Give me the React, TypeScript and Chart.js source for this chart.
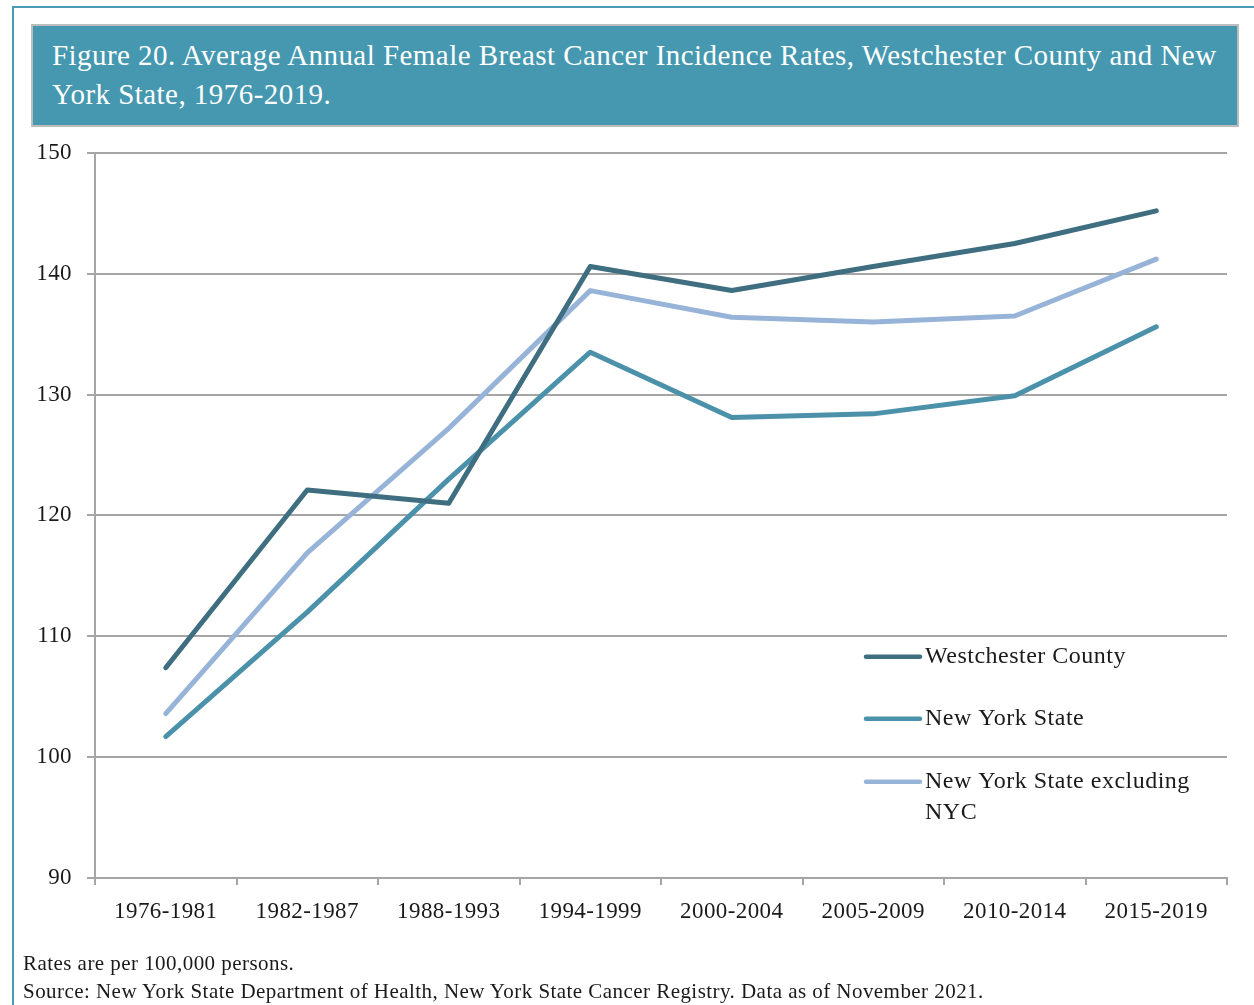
import React, { useEffect, useRef } from 'react';
import { Chart, registerables } from 'chart.js';

Chart.register(...registerables);

const categories = ['1976-1981', '1982-1987', '1988-1993', '1994-1999', '2000-2004', '2005-2009', '2010-2014', '2015-2019'];
const westchester = [107.4, 122.1, 121.0, 140.6, 138.6, 140.6, 142.5, 145.2];
const newYorkState = [101.7, 112.0, 123.0, 133.5, 128.1, 128.4, 129.9, 135.6];
const nysExclNyc = [103.6, 116.9, 127.2, 138.6, 136.4, 136.0, 136.5, 141.2];
const seriesLabels = ['Westchester County', 'New York State', 'New York State excluding NYC'];
const seriesColors = ['#3e6e80', '#4b91aa', '#97b4d8'];
const yMin = 90;
const yMax = 150;
const yStep = 10;

const FONT = "'Liberation Serif', 'Times New Roman', serif";

const spacingPlugin = {
  id: 'letterSpacing',
  beforeDraw(chart: any) {
    chart.ctx.letterSpacing = '0.4px';
  },
};

const legendPlugin = {
  id: 'insideLegend',
  afterDraw(chart: any) {
    const ctx = chart.ctx;
    const area = chart.chartArea;
    const x0 = area.right - 361;
    const x1 = x0 + 54;
    const tx = x1 + 5;
    const rows = [504, 566, 629];
    ctx.save();
    ctx.font = `24px ${FONT}`;
    ctx.letterSpacing = '0.5px';
    ctx.textBaseline = 'middle';
    ctx.textAlign = 'left';
    chart.data.datasets.forEach((ds: any, i: number) => {
      const y = area.top + rows[i];
      ctx.strokeStyle = ds.borderColor;
      ctx.lineWidth = 4.5;
      ctx.lineCap = 'round';
      ctx.beginPath();
      ctx.moveTo(x0, y);
      ctx.lineTo(x1, y);
      ctx.stroke();
      ctx.fillStyle = '#1a1a1a';
      const words = String(ds.label).split(' ');
      const lines: string[] = [];
      let cur = '';
      const maxW = 275;
      words.forEach((w) => {
        const test = cur ? cur + ' ' + w : w;
        if (ctx.measureText(test).width > maxW && cur) {
          lines.push(cur);
          cur = w;
        } else {
          cur = test;
        }
      });
      if (cur) lines.push(cur);
      lines.forEach((ln, j) => ctx.fillText(ln, tx, y + j * 31));
    });
    ctx.restore();
  },
};

function ChartCanvas() {
  const ref = useRef<HTMLCanvasElement | null>(null);
  useEffect(() => {
    if (!ref.current) return;
    const data = [westchester, newYorkState, nysExclNyc];
    const chart = new Chart(ref.current, {
      type: 'line',
      data: {
        labels: categories,
        datasets: data.map((d, i) => ({
          label: seriesLabels[i],
          data: d,
          borderColor: seriesColors[i],
          backgroundColor: seriesColors[i],
          borderWidth: 5,
          pointRadius: 0,
          tension: 0,
          borderCapStyle: 'round' as const,
          borderJoinStyle: 'round' as const,
        })),
      },
      options: {
        responsive: false,
        animation: false,
        devicePixelRatio: 1,
        layout: { padding: { left: 0, right: 27, top: 16, bottom: 0 } },
        plugins: {
          legend: { display: false },
          tooltip: { enabled: false },
          title: { display: false },
        },
        scales: {
          x: {
            type: 'category',
            offset: true,
            grid: {
              offset: true,
              drawOnChartArea: false,
              drawTicks: true,
              tickLength: 7,
              color: '#a5a5a5',
              lineWidth: 2,
            },
            border: { display: true, color: '#a5a5a5', width: 2 },
            ticks: {
              color: '#1a1a1a',
              font: { family: FONT, size: 23 },
              padding: 13,
              maxRotation: 0,
              autoSkip: false,
            },
            afterFit: (scale: any) => {
              scale.height = 52;
            },
          },
          y: {
            min: yMin,
            max: yMax,
            ticks: {
              stepSize: yStep,
              color: '#1a1a1a',
              font: { family: FONT, size: 23 },
              padding: 15,
            },
            grid: {
              color: '#a5a5a5',
              lineWidth: 2,
              tickLength: 8,
              drawTicks: true,
            },
            border: { display: true, color: '#a5a5a5', width: 2 },
            afterFit: (scale: any) => {
              scale.width = 95;
            },
          },
        },
      },
      plugins: [spacingPlugin, legendPlugin],
    });
    return () => chart.destroy();
  }, []);
  return <canvas ref={ref} width={1254} height={806} style={{ position: 'absolute', left: 0, top: 124, width: 1254, height: 806 }} />;
}

export default function App() {
  return (
    <div style={{ position: 'absolute', left: 0, top: 0, width: 1254, height: 1005, background: '#fff', overflow: 'hidden', fontFamily: FONT }}>
      <ChartCanvas />
      <div style={{ position: 'absolute', left: 12, top: 6, width: 1242, height: 999, borderTop: '2px solid #4a9ab2', borderLeft: '2px solid #4a9ab2' }} />
      <div
        style={{
          position: 'absolute',
          left: 31,
          top: 24,
          width: 1208,
          height: 103,
          background: '#4598b0',
          border: '2px solid #bdbdbd',
          color: '#ffffff',
          fontSize: 29,
          lineHeight: '39px',
          letterSpacing: '0.45px',
          padding: '10px 0 0 19px',
          boxSizing: 'border-box',
          whiteSpace: 'nowrap',
        }}
      >
        <div>Figure 20. Average Annual Female Breast Cancer Incidence Rates, Westchester County and New</div>
        <div>York State, 1976-2019.</div>
      </div>
      <div style={{ position: 'absolute', left: 23, top: 949, fontSize: 21, lineHeight: '28px', letterSpacing: '0.45px', color: '#1a1a1a', whiteSpace: 'nowrap' }}>
        <div>Rates are per 100,000 persons.</div>
        <div>Source: New York State Department of Health, New York State Cancer Registry. Data as of November 2021.</div>
      </div>
    </div>
  );
}
